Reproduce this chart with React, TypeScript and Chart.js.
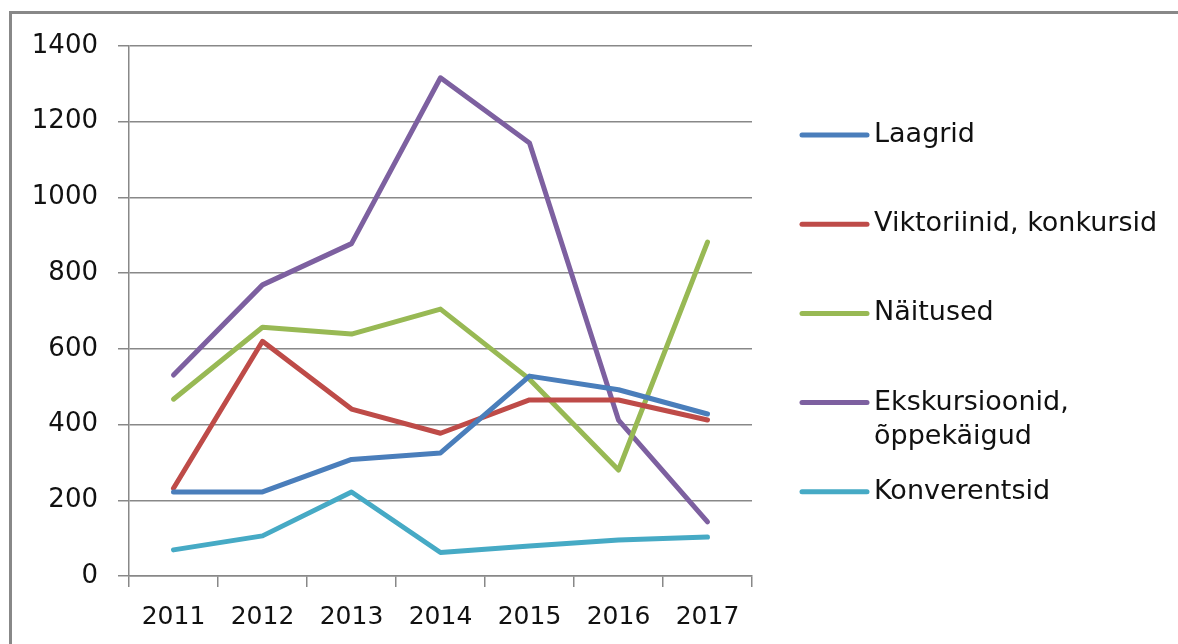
import React, { useEffect, useRef } from "react";
import { Chart, registerables } from "chart.js";

Chart.register(...registerables);

const years = ["2011", "2012", "2013", "2014", "2015", "2016", "2017"];
const laagrid = [222, 222, 308, 325, 528, 492, 428];
const viktoriinid = [232, 620, 441, 377, 465, 465, 412];
const naitused = [467, 657, 639, 705, 520, 280, 882];
const ekskursioonid = [531, 769, 878, 1316, 1144, 412, 143];
const konverentsid = [69, 106, 222, 62, 79, 95, 103];

const seriesNames = [
  ["Laagrid"],
  ["Viktoriinid, konkursid"],
  ["Näitused"],
  ["Ekskursioonid,", "õppekäigud"],
  ["Konverentsid"],
];
const seriesColors = ["#4A7EBB", "#BE4B48", "#98B954", "#7D60A0", "#46AAC5"];
const seriesData = [laagrid, viktoriinid, naitused, ekskursioonid, konverentsid];

const FONT = "'DejaVu Sans', sans-serif";

const framePlugin = {
  id: "frame",
  beforeDraw(chart: any) {
    const ctx = chart.ctx;
    ctx.save();
    ctx.fillStyle = "#fff";
    ctx.fillRect(0, 0, chart.width, chart.height);
    ctx.fillStyle = "#888";
    ctx.fillRect(9, 11, chart.width - 9, 3);
    ctx.fillRect(9, 11, 3, chart.height - 11);
    ctx.restore();
  },
};

const legendPlugin = {
  id: "customLegend",
  afterDraw(chart: any) {
    const ctx = chart.ctx;
    ctx.save();
    ctx.font = `27px ${FONT}`;
    ctx.fillStyle = "#111";
    ctx.textBaseline = "middle";
    ctx.textAlign = "left";
    chart.data.datasets.forEach((ds: any, i: number) => {
      const y = 135 + i * 89.2;
      ctx.strokeStyle = ds.borderColor;
      ctx.lineWidth = 5;
      ctx.lineCap = "round";
      ctx.beginPath();
      ctx.moveTo(802, y);
      ctx.lineTo(867, y);
      ctx.stroke();
      const lines = seriesNames[i];
      lines.forEach((t: string, j: number) => {
        ctx.fillText(t, 874, y + j * 34);
      });
    });
    ctx.restore();
  },
};

export default function App() {
  const ref = useRef<HTMLCanvasElement>(null);
  useEffect(() => {
    if (!ref.current) return;
    const chart = new Chart(ref.current, {
      type: "line",
      data: {
        labels: years,
        datasets: seriesData.map((d, i) => ({
          label: seriesNames[i].join(" "),
          data: d,
          borderColor: seriesColors[i],
          backgroundColor: seriesColors[i],
          borderWidth: 5,
          pointRadius: 0,
          tension: 0,
          borderCapStyle: "round" as const,
          borderJoinStyle: "round" as const,
        })),
      },
      options: {
        animation: false,
        responsive: false,
        layout: { padding: { left: 0, top: 46, right: 426, bottom: 0 } },
        plugins: { legend: { display: false }, tooltip: { enabled: false } },
        scales: {
          x: {
            offset: true,
            grid: {
              offset: true,
              drawOnChartArea: false,
              drawTicks: true,
              tickLength: 11,
              color: "#888",
              lineWidth: 1.5,
            },
            border: { color: "#888", width: 1.5 },
            ticks: {
              font: { family: FONT, size: 25 },
              color: "#111",
              padding: 15,
              maxRotation: 0,
            },
            afterFit(scale: any) {
              scale.height = 68;
            },
          },
          y: {
            min: 0,
            max: 1400,
            ticks: {
              stepSize: 200,
              font: { family: FONT, size: 26 },
              color: "#111",
              padding: 20,
              callback: (v: any) => String(v),
            },
            grid: {
              color: "#888",
              lineWidth: 1.5,
              tickLength: 11,
            },
            border: { color: "#888", width: 1.5 },
            afterFit(scale: any) {
              scale.width = 129;
            },
          },
        },
      },
      plugins: [framePlugin, legendPlugin],
    });
    return () => chart.destroy();
  }, []);
  return (
    <div
      style={{
        position: "fixed",
        left: 0,
        top: 0,
        width: 1178,
        height: 644,
        overflow: "hidden",
        background: "#fff",
      }}
    >
      <canvas
        ref={ref}
        width={1178}
        height={644}
        style={{ display: "block", width: 1178, height: 644 }}
      />
    </div>
  );
}
